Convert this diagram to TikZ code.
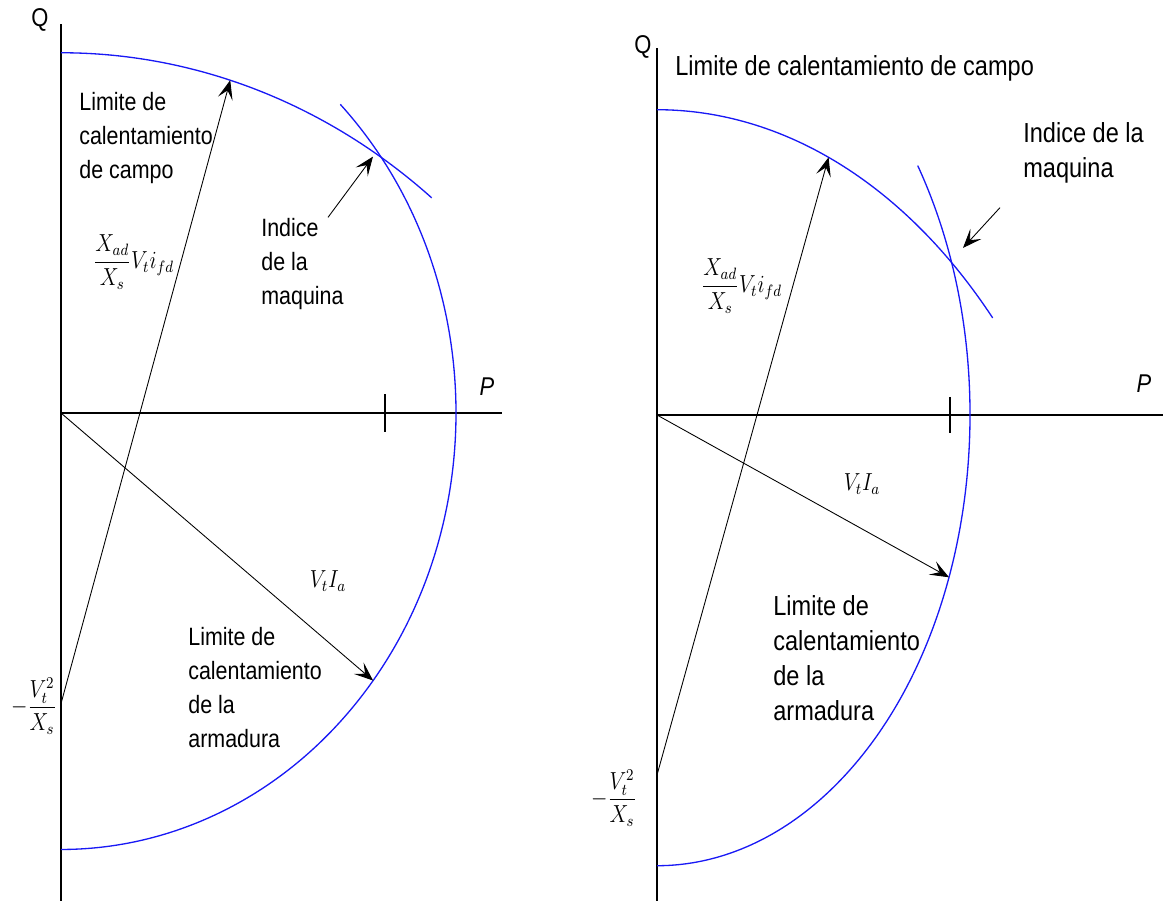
\documentclass[tikz,border=0pt]{standalone}
\usepackage{amsmath}
\usepackage[no-math]{fontspec}
\setmainfont{Liberation Sans}
\usetikzlibrary{arrows.meta}
\definecolor{limblue}{RGB}{25,25,245}
\tikzset{
    axis/.style={line width=0.85pt, black},
    limit/.style={line width=0.75pt, limblue},
    vec/.style={line width=0.5pt, black, -{Stealth[length=3.8mm, width=3mm, inset=1.7mm]}},
    txtL/.style={font=\fontsize{12.2}{16.5}\selectfont, align=left, inner sep=0pt, yscale=1.17},
    txtR/.style={font=\fontsize{13.4}{17}\selectfont, align=left, inner sep=0pt, yscale=1.17},
    eq/.style={font=\fontsize{12}{14}\selectfont, inner sep=0pt, yscale=1.17},
    axlbl/.style={font=\fontsize{12.5}{14}\selectfont, inner sep=0pt, yscale=1.17},
}

\begin{document}
\begin{tikzpicture}[x=0.02cm, y=0.02cm]
    \useasboundingbox (0,0) rectangle (1163,-901);

    % Left diagram
    \begin{scope}[shift={(61,-413)}, yscale=1.105]
        \coordinate (oL) at (0,0);
        \coordinate (cL) at (0,-263);
        \coordinate (qtL) at (0,352);
        \coordinate (qbL) at (0,-442);
        \coordinate (pL) at (441,0);
        \coordinate (iL) at (312,232);
        \coordinate (isL) at (267,177);
        \path (cL) ++(73.3:589) coordinate (fL);
        \path (oL) ++(-37.8:395) coordinate (aL);
        \draw[axis] (qbL) -- (qtL);
        \draw[axis] (oL) -- (pL);
        \draw[axis] (324,17) -- (324,-17);
        % armature and field limits
        \draw[limit] (45:395) arc[start angle=45, end angle=-90, radius=395];
        \draw[limit] (0,326) arc[start angle=90, end angle=51, radius=589];
        \draw[vec] (cL) -- (fL);
        \draw[vec] (oL) -- (aL);
        \draw[vec] (isL) -- (iL);
    \end{scope}

    % Right diagram
    \begin{scope}[shift={(657,-415)}, yscale=1.44]
        \coordinate (oR) at (0,0);
        \coordinate (cR) at (0,-250);
        \coordinate (qtR) at (0,255);
        \coordinate (qbR) at (0,-338);
        \coordinate (pR) at (506,0);
        \coordinate (iR) at (306,116);
        \coordinate (isR) at (343,144);
        \path (cR) ++(68.2:462) coordinate (fR);
        \path (oR) ++(-21.1:313) coordinate (aR);
        \draw[axis] (qbR) -- (qtR);
        \draw[axis] (oR) -- (pR);
        \draw[axis] (293,12.5) -- (293,-12.5);
        % armature and field limits
        \draw[limit] (33.6:313) arc[start angle=33.6, end angle=-90, radius=313];
        \draw[limit] (0,212) arc[start angle=90, end angle=43.4, radius=462];
        \draw[vec] (cR) -- (fR);
        \draw[vec] (oR) -- (aR);
        \draw[vec] (isR) -- (iR);
    \end{scope}

    % Labels left
    \node[axlbl] (qL) at (40,-20) {Q};
    \node[axlbl] (pLl) at (487,-387) {\itshape P};
    \node[txtL, anchor=north west] (campoL) at (79,-92) {Limite de\\calentamiento\\de campo};
    \node[txtL, anchor=north west] (indiceL) at (261,-218) {Indice\\de la\\maquina};
    \node[txtL, anchor=north west] (armL) at (188,-627) {Limite de\\calentamiento\\de la\\armadura};
    \node[eq, anchor=west] (fldL) at (93,-262) {$\dfrac{X_{ad}}{X_s}V_t i_{fd}$};
    \node[eq] (vaL) at (328,-581) {$V_t I_a$};
    \node[eq, anchor=east] (vxL) at (57,-706) {$-\dfrac{V_t^2}{X_s}$};

    % Labels right
    \node[axlbl] (qR) at (643,-47) {Q};
    \node[axlbl] (pRl) at (1144,-384) {\itshape P};
    \node[txtR, anchor=north west] (campoR) at (675,-55) {Limite de calentamiento de campo};
    \node[txtR, anchor=north west] (indiceR) at (1023,-122) {Indice de la\\maquina};
    \node[txtR, anchor=north west] (armR) at (773,-595) {Limite de\\calentamiento\\de la\\armadura};
    \node[eq, anchor=west] (fldR) at (701,-286) {$\dfrac{X_{ad}}{X_s}V_t i_{fd}$};
    \node[eq] (vaR) at (862,-484) {$V_t I_a$};
    \node[eq, anchor=east] (vxR) at (637,-798) {$-\dfrac{V_t^2}{X_s}$};
\end{tikzpicture}
\end{document}
